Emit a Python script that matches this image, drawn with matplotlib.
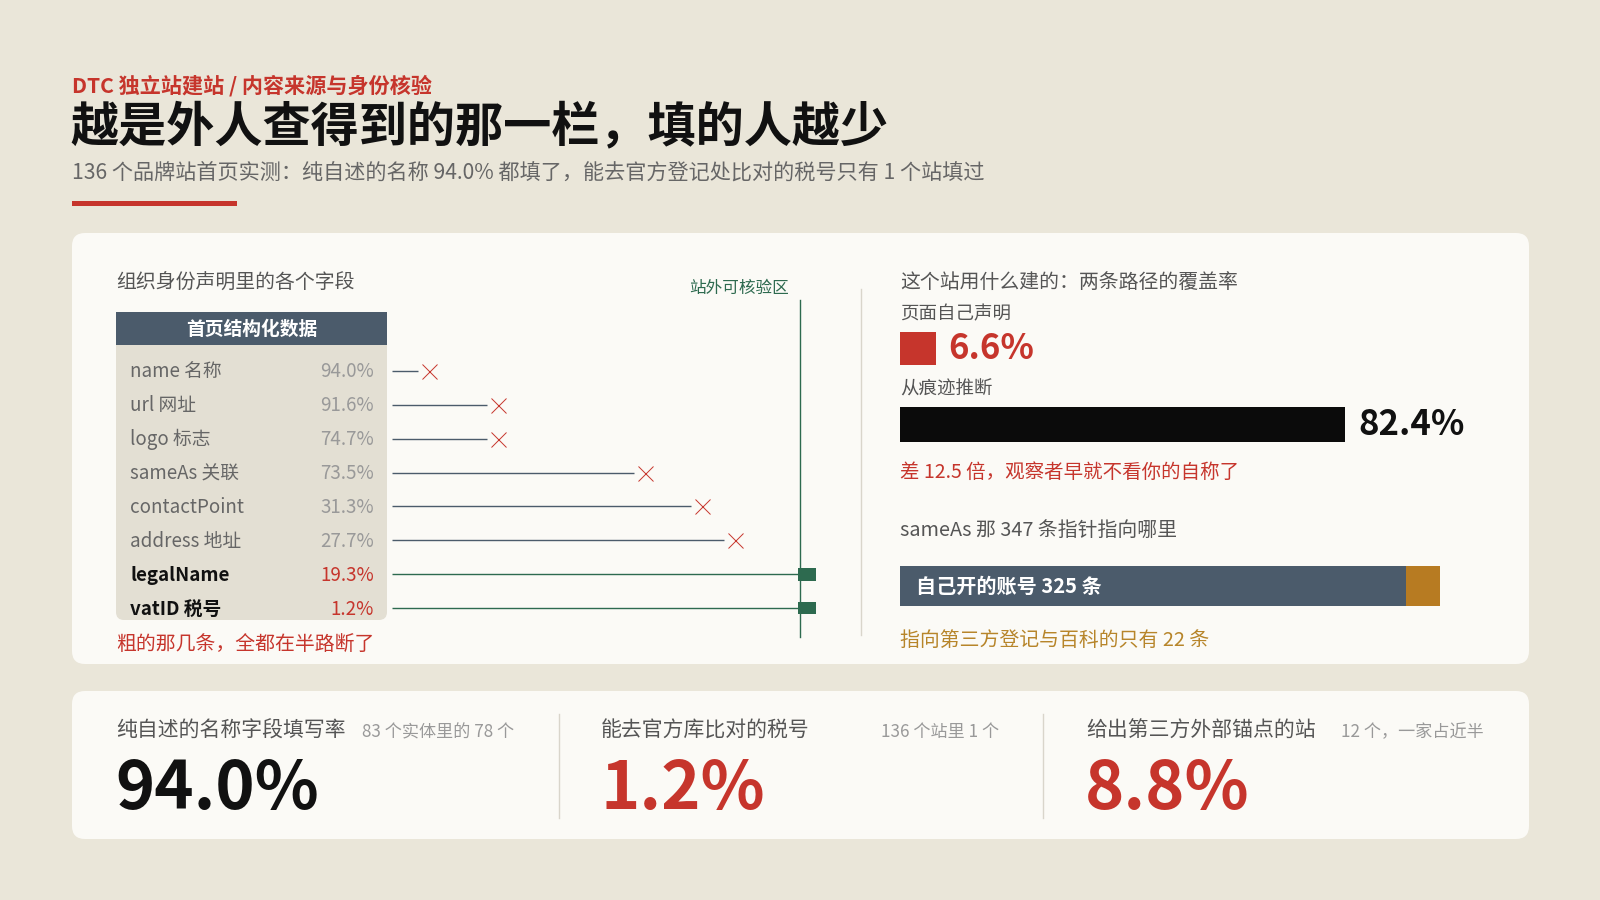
import matplotlib
matplotlib.use("Agg")
import matplotlib.pyplot as plt
from matplotlib.patches import FancyBboxPatch, Rectangle
from matplotlib.transforms import blended_transform_factory

plt.rcParams['font.family'] = ['Noto Sans CJK SC', 'DejaVu Sans']

# ---------------- data ----------------
fields = ['name 名称', 'url 网址', 'logo 标志', 'sameAs 关联', 'contactPoint',
          'address 地址', 'legalName', 'vatID 税号']
fill_rate = [94.0, 91.6, 74.7, 73.5, 31.3, 27.7, 19.3, 1.2]
# how far each field's trail gets toward the off-site verifiable zone (1 = reaches it)
reach = [0.09, 0.26, 0.26, 0.62, 0.76, 0.84, 1.0, 1.0]
verifiable = [False, False, False, False, False, False, True, True]

coverage_labels = ['页面自己声明', '从痕迹推断']
coverage_values = [6.6, 82.4]

sameas_labels = ['自己开的账号', '第三方登记与百科']
sameas_counts = [325, 22]

kpi_titles = ['纯自述的名称字段填写率', '能去官方库比对的税号', '给出第三方外部锚点的站']
kpi_notes = ['83 个实体里的 78 个', '136 个站里 1 个', '12 个，一家占近半']
kpi_values = [94.0, 1.2, 8.8]

# ---------------- style ----------------
BG = '#EAE6D9'
PANEL = '#FBFAF6'
RED = '#C6352C'
SLATE = '#4B5B6B'
GREEN = '#2D6A4F'
GOLD = '#B77B22'
GOLD_T = '#B7852A'
TABLE = '#E3DFD3'
INK = '#111111'
GRAY = '#555555'
LGRAY = '#999999'

fig = plt.figure(figsize=(16, 9), dpi=100, facecolor=BG)
bg = fig.add_axes([0, 0, 1, 1])
bg.set_xlim(0, 1600)
bg.set_ylim(900, 0)
bg.axis('off')
bg.set_facecolor(BG)


def fax(x0, y0, x1, y1):
    """axes from pixel box (top-left origin)"""
    return fig.add_axes([x0 / 1600, 1 - y1 / 900, (x1 - x0) / 1600, (y1 - y0) / 900])


# ---------------- header ----------------
bg.text(72, 86, 'DTC 独立站建站 / 内容来源与身份核验', color=RED, fontsize=15.2,
        fontweight='bold', va='center', ha='left')
bg.text(70, 127, '越是外人查得到的那一栏，填的人越少', color=INK, fontsize=34.7,
        fontweight='bold', va='center', ha='left')
bg.text(72, 174, '136 个品牌站首页实测：纯自述的名称 94.0% 都填了，能去官方登记处比对的税号只有 1 个站填过',
        color='#666666', fontsize=15.2, va='center', ha='left')
bg.add_patch(Rectangle((72, 201), 165, 5, color=RED, lw=0))

# ---------------- panels ----------------
bg.add_patch(FancyBboxPatch((72, 233), 1457, 431, boxstyle='round,pad=0,rounding_size=13',
                            fc=PANEL, ec='none'))
bg.add_patch(FancyBboxPatch((72, 691), 1457, 148, boxstyle='round,pad=0,rounding_size=13',
                            fc=PANEL, ec='none'))

# ---------------- left panel ----------------
bg.text(116, 282, '组织身份声明里的各个字段', color=GRAY, fontsize=14.3, va='center')
bg.add_patch(FancyBboxPatch((116, 330), 271, 290, boxstyle='round,pad=0,rounding_size=8',
                            fc=TABLE, ec='none'))
bg.add_patch(Rectangle((116, 312), 271, 33, fc=SLATE, ec='none'))
bg.text(251.5, 329, '首页结构化数据', color='white', fontsize=13.5, fontweight='bold',
        ha='center', va='center')

axl = fax(392, 354, 800, 625)
axl.set_xlim(0, 1)
axl.set_ylim(len(fields) - 0.5, -0.5)
axl.axis('off')

trans = blended_transform_factory(bg.transData, axl.transData)
gap = 0.027
for i, (f, p, r, v) in enumerate(zip(fields, fill_rate, reach, verifiable)):
    lab_c = INK if v else '#666666'
    pct_c = RED if v else LGRAY
    bg.text(130, i + 0.03, f, transform=trans, color=lab_c, fontsize=13.5,
            fontweight='bold' if v else 'normal', va='center', ha='left')
    bg.text(374, i + 0.03, f'{p:.1f}%', transform=trans, color=pct_c, fontsize=13.5,
            va='center', ha='right')
    if v:
        axl.hlines(i, 0, r, color=GREEN, lw=1.0, clip_on=False)
        axl.barh(i, 0.043, left=r - 0.004, height=0.38, color=GREEN, clip_on=False, zorder=4)
    else:
        axl.hlines(i, 0, r - gap, color=SLATE, lw=1.0, clip_on=False)
        axl.plot([r], [i], marker='x', ms=10.8, mew=0.7, color=RED, ls='none', clip_on=False)

vtrans = blended_transform_factory(axl.transData, bg.transData)
bg.plot([1, 1], [300, 637], transform=vtrans, color=GREEN, lw=1.0, clip_on=False)
bg.annotate('站外可核验区', xy=(1, 288), xycoords=vtrans, xytext=(-8, 0),
            textcoords='offset points', color=GREEN, fontsize=12, ha='right', va='center')

bg.text(116, 645, '粗的那几条，全都在半路断了', color=RED, fontsize=14.3, va='center')

# ---------------- right panel ----------------
bg.plot([861, 861], [289, 635], color='#D9D5CB', lw=1.0)
bg.text(900, 282, '这个站用什么建的：两条路径的覆盖率', color=GRAY, fontsize=14.3, va='center')

bar_colors = [RED, '#0B0B0B']
val_colors = [RED, INK]
label_y = [314, 390]
bar_boxes = [(332, 365), (407, 442)]
for lab, val, bc, vc, ly, (y0, y1) in zip(coverage_labels, coverage_values, bar_colors,
                                          val_colors, label_y, bar_boxes):
    bg.text(900, ly, lab, color=GRAY, fontsize=13.3, va='center')
    ax = fax(900, y0, 1440, y1)
    ax.set_xlim(0, 100)
    ax.set_ylim(-0.5, 0.5)
    ax.axis('off')
    ax.barh(0, val, height=1.0, color=bc, clip_on=False)
    ax.annotate(f'{val:.1f}%', xy=(val, 0), xytext=(9.4, 0), textcoords='offset points',
                color=vc, fontsize=25, fontweight='bold', va='center', ha='left')

ratio = coverage_values[1] / coverage_values[0]
bg.text(900, 472, f'差 {ratio:.1f} 倍，观察者早就不看你的自称了', color=RED, fontsize=14,
        va='center')

total = sum(sameas_counts)
bg.text(900, 530, f'sameAs 那 {total} 条指针指向哪里', color=GRAY, fontsize=14.3, va='center')
axs = fax(900, 566, 1440, 606)
axs.set_xlim(0, total)
axs.set_ylim(-0.5, 0.5)
axs.axis('off')
left = 0
for cnt, c in zip(sameas_counts, [SLATE, GOLD]):
    axs.barh(0, cnt, left=left, height=1.0, color=c)
    left += cnt
axs.annotate(f'{sameas_labels[0]} {sameas_counts[0]} 条', xy=(0, 0), xytext=(11.5, 0),
             textcoords='offset points', color='white', fontsize=14.5, fontweight='bold',
             va='center', ha='left')
bg.text(900, 640, f'指向第三方登记与百科的只有 {sameas_counts[1]} 条',
        color=GOLD_T, fontsize=14.3, va='center')

# ---------------- KPI cards ----------------
card_x = [116, 601, 1086]
card_r = [514, 999, 1484]
kpi_colors = [INK, RED, RED]
for x, xr, t, n, v, c in zip(card_x, card_r, kpi_titles, kpi_notes, kpi_values, kpi_colors):
    bg.text(x, 731, t, color=GRAY, fontsize=15, va='center', ha='left')
    bg.text(xr, 732, n, color=LGRAY, fontsize=12.3, va='center', ha='right')
    bg.text(x - 1, 809, f'{v:.1f}%', color=c, fontsize=48, fontweight='bold',
            va='baseline', ha='left')
for dx in [559, 1043]:
    bg.plot([dx, dx], [714, 818], color='#D9D5CB', lw=1.0)

fig.savefig('out.png', dpi=100, facecolor=BG)
